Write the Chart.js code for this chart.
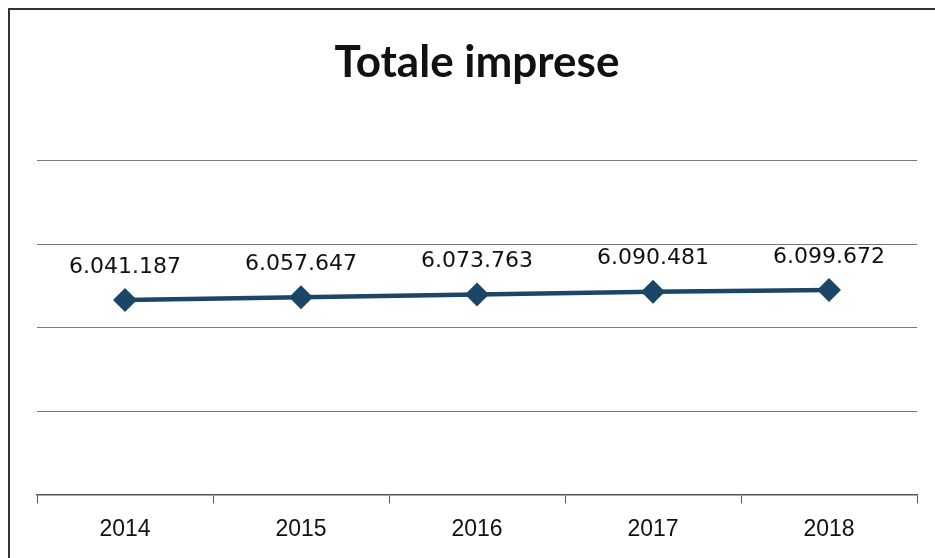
<!DOCTYPE html>
<html>
<head>
<meta charset="utf-8">
<script src="https://cdn.jsdelivr.net/npm/chart.js@4/dist/chart.umd.min.js"></script>
<style>
    html, body { margin: 0; padding: 0; background: #fff; }
    #wrap { position: relative; width: 935px; height: 558px; overflow: hidden; }
    #frame {
        position: absolute; left: 8px; top: 8px; width: 940px; height: 560px;
        border-left: 2px solid #333; border-top: 2px solid #333;
    }
    #chart { position: absolute; left: 0; top: 0; }
</style>
</head>
<body>
<div id="wrap">
    <div id="frame"></div>
    <canvas id="chart" width="935" height="558"></canvas>
</div>
<script>
// ============================================================
// DATI
// ============================================================

const anni = ['2014', '2015', '2016', '2017', '2018'];
const totaleImprese = [6041187, 6057647, 6073763, 6090481, 6099672];
const titolo = 'Totale imprese';

// scala verticale (nessuna etichetta visibile, solo griglia)
const asseMin = 4875000;
const asseMax = 6875000;
const asseStep = 500000;

const coloreSerie = '#1b4668';

// ============================================================
// FUNZIONI
// ============================================================

function formattaNumero(n) {
    return String(n).replace(/\B(?=(\d{3})+(?!\d))/g, '.');
}

// etichette dei valori sopra i punti
const etichetteValori = {
    id: 'etichetteValori',
    afterDatasetsDraw(chart) {
        const ctx = chart.ctx;
        const meta = chart.getDatasetMeta(0);
        ctx.save();
        ctx.font = '22px "DejaVu Sans"';
        ctx.fillStyle = '#111';
        ctx.textAlign = 'center';
        ctx.textBaseline = 'middle';
        meta.data.forEach((pt, i) => {
            ctx.fillText(formattaNumero(totaleImprese[i]), pt.x, pt.y - 33);
        });
        ctx.restore();
    }
};

function init() {
    const ctx = document.getElementById('chart').getContext('2d');

    new Chart(ctx, {
        type: 'line',
        data: {
            labels: anni,
            datasets: [{
                label: titolo,
                data: totaleImprese,
                borderColor: coloreSerie,
                backgroundColor: coloreSerie,
                borderWidth: 4.5,
                pointStyle: 'rectRot',
                pointRadius: 12,
                pointBorderWidth: 0,
                pointBackgroundColor: coloreSerie,
                tension: 0
            }]
        },
        options: {
            responsive: false,
            animation: false,
            layout: {
                padding: { left: 37, right: 18, top: 0, bottom: 3 }
            },
            plugins: {
                legend: { display: false },
                tooltip: { enabled: false },
                title: {
                    display: true,
                    text: titolo,
                    color: '#111',
                    font: { family: 'Lato', size: 44, weight: 'bold' },
                    padding: { top: 36, bottom: 72 }
                }
            },
            scales: {
                x: {
                    offset: true,
                    grid: {
                        offset: true,
                        drawOnChartArea: false,
                        drawTicks: true,
                        tickLength: 9,
                        color: '#555'
                    },
                    border: { color: '#555', width: 1.5 },
                    ticks: {
                        color: '#111',
                        padding: 12,
                        font: { family: 'Liberation Sans', size: 23 }
                    }
                },
                y: {
                    min: asseMin,
                    max: asseMax,
                    ticks: { stepSize: asseStep, display: false },
                    grid: { color: '#7a7a7a', lineWidth: 1, drawTicks: false },
                    border: { display: false }
                }
            }
        },
        plugins: [etichetteValori]
    });
}

document.addEventListener('DOMContentLoaded', init);
</script>
</body>
</html>
